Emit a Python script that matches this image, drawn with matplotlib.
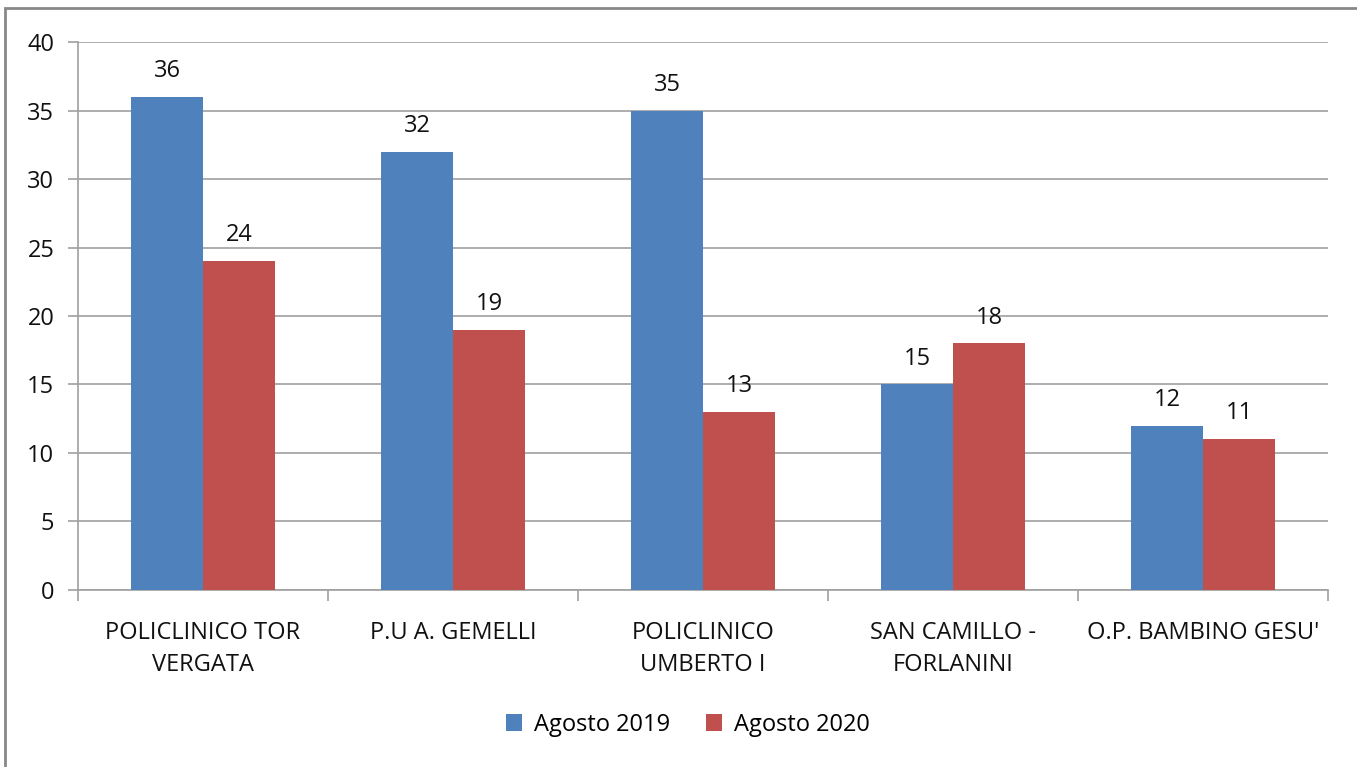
import matplotlib.pyplot as plt
import numpy as np
from matplotlib.patches import Rectangle

plt.rcParams['font.family'] = ['Open Sans', 'DejaVu Sans']

# ── Data ───────────────────────────────────────────────────────
categories = ['POLICLINICO TOR\nVERGATA', 'P.U A. GEMELLI', 'POLICLINICO\nUMBERTO I',
              'SAN CAMILLO -\nFORLANINI', "O.P. BAMBINO GESU'"]
agosto_2019 = [36, 32, 35, 15, 12]
agosto_2020 = [24, 19, 13, 18, 11]

blue = '#4f81bd'
red = '#c0504d'
grid_col = '#a0a0a0'
fs = 17

fig = plt.figure(figsize=(13.57, 7.67), dpi=100)
ax = fig.add_axes([0.0575, 0.2308, 0.9211, 0.7144])

# figure border (Excel chart frame)
fig.patches.append(Rectangle((5 / 1357, -0.05), 1.1, 1 - 8 / 767 + 0.05,
                             transform=fig.transFigure, fill=False,
                             ec='#888888', lw=2))

x = np.arange(len(categories))
w = 0.288
b1 = ax.bar(x - w / 2, agosto_2019, w, color=blue, label='Agosto 2019', zorder=3)
b2 = ax.bar(x + w / 2, agosto_2020, w, color=red, label='Agosto 2020', zorder=3)

for bars in (b1, b2):
    for rect in bars:
        ax.annotate(f'{rect.get_height():.0f}',
                    xy=(rect.get_x() + rect.get_width() / 2, rect.get_height()),
                    xytext=(0, 10), textcoords='offset points',
                    ha='center', va='bottom', fontsize=fs, color='#111111')

ax.set_xlim(-0.5, len(categories) - 0.5)
ax.set_ylim(0, 40)
ax.set_yticks(range(0, 41, 5))
ax.yaxis.grid(True, color=grid_col, lw=1.2, zorder=0)
ax.set_axisbelow(True)

# category boundaries carry the x ticks
ax.set_xticks(np.arange(-0.5, len(categories), 1.0))
ax.set_xticklabels([])
ax.set_xticks(x, minor=True)
ax.set_xticklabels(categories, minor=True, fontsize=fs, color='#111111',
                   linespacing=1.45)
ax.tick_params(axis='x', which='minor', length=0, pad=22)
ax.tick_params(axis='x', which='major', length=8, color=grid_col, width=1.2)
ax.tick_params(axis='y', length=7, color=grid_col, width=1.2, labelsize=fs,
               labelcolor='#111111', pad=10)

for s in ('top', 'right'):
    ax.spines[s].set_visible(False)
for s in ('left', 'bottom'):
    ax.spines[s].set_color(grid_col)
    ax.spines[s].set_linewidth(1.2)

fig.legend(handles=[b1, b2], loc='center', bbox_to_anchor=(0.507, 0.055),
           ncol=2, frameon=False, fontsize=fs, handlelength=0.7,
           handleheight=0.7, columnspacing=1.5, handletextpad=0.5)

fig.savefig('out.png', dpi=100)
